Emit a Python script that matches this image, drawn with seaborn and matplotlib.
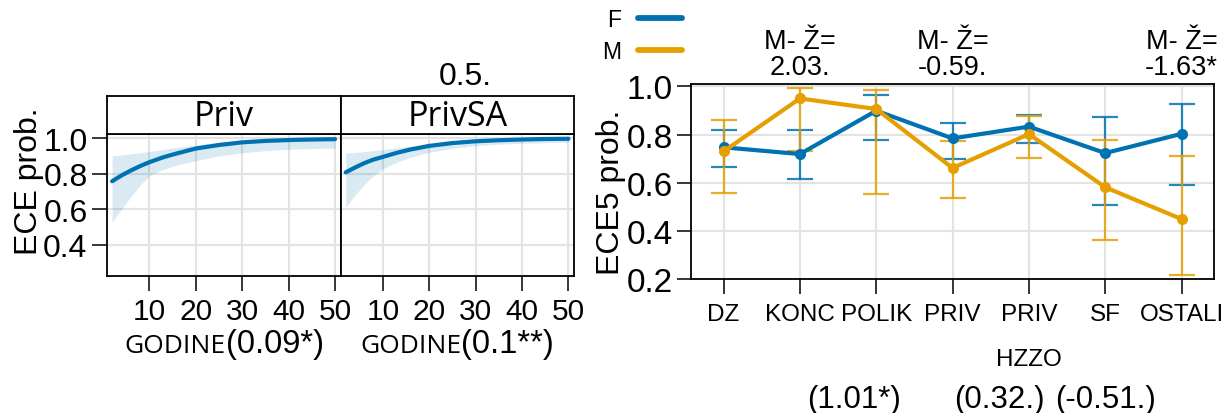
import numpy as np
import pandas as pd
import matplotlib
matplotlib.use("Agg")
import matplotlib.pyplot as plt
import matplotlib.transforms as mtransforms
from matplotlib.lines import Line2D
import seaborn as sns

# ---------------- data: left panels (fitted probability vs years) ----------------
years = [2, 4, 6, 8, 10, 13, 16, 20, 25, 30, 35, 40, 45, 50]
priv_fit = [0.758, 0.790, 0.818, 0.843, 0.865, 0.893, 0.915, 0.942, 0.962, 0.977, 0.985, 0.990, 0.993, 0.995]
priv_lo = [0.527, 0.600, 0.670, 0.735, 0.790, 0.825, 0.850, 0.874, 0.900, 0.918, 0.930, 0.938, 0.942, 0.945]
priv_hi = [0.902, 0.906, 0.912, 0.918, 0.925, 0.937, 0.948, 0.962, 0.978, 0.988, 0.993, 0.996, 0.998, 0.999]
privsa_fit = [0.808, 0.835, 0.860, 0.880, 0.895, 0.918, 0.937, 0.957, 0.973, 0.983, 0.989, 0.993, 0.996, 0.997]
privsa_lo = [0.611, 0.680, 0.740, 0.790, 0.827, 0.865, 0.893, 0.921, 0.943, 0.958, 0.967, 0.972, 0.975, 0.977]
privsa_hi = [0.917, 0.920, 0.925, 0.930, 0.936, 0.946, 0.955, 0.968, 0.982, 0.991, 0.995, 0.997, 0.999, 1.000]
panel_names = ["Priv", "PrivSA"]
panel_var = ["GODINE", "GODINE"]
panel_coef = ["(0.09*)", "(0.1**)"]
year_ticks = [10, 20, 30, 40, 50]
prob_ticks_left = [0.4, 0.6, 0.8, 1.0]
top_note = "0.5."

# ---------------- data: right panel (by category and sex) ----------------
categories = ["DZ", "KONC", "POLIK", "PRIV", "PRIV\nHZZO", "SF", "OSTALI"]
f_mean = [0.747, 0.719, 0.899, 0.784, 0.833, 0.723, 0.803]
f_lo = [0.666, 0.615, 0.776, 0.697, 0.767, 0.507, 0.590]
f_hi = [0.820, 0.819, 0.964, 0.849, 0.881, 0.873, 0.925]
m_mean = [0.730, 0.950, 0.906, 0.661, 0.802, 0.581, 0.449]
m_lo = [0.556, 0.731, 0.552, 0.538, 0.702, 0.363, 0.217]
m_hi = [0.862, 0.993, 0.986, 0.774, 0.878, 0.779, 0.712]
sexes = ["F", "M"]
prob_ticks_right = [0.2, 0.4, 0.6, 0.8, 1.0]
contrast_cats = ["KONC", "PRIV", "OSTALI"]
contrast_vals = ["2.03.", "-0.59.", "-1.63*"]
bottom_notes = ["(1.01*)", "(0.32.)", "(-0.51.)"]
bottom_note_x = [1.71, 3.62, 5.01]

BLUE = "#0072B2"
ORANGE = "#E69F00"
GRID = "#E3E3E3"

sns.set_theme(style="white")
plt.rcParams["font.family"] = ["Liberation Sans", "DejaVu Sans"]
plt.rcParams["axes.linewidth"] = 1.3
for key in ["text.color", "axes.labelcolor", "xtick.color", "ytick.color", "axes.edgecolor"]:
    plt.rcParams[key] = "black"

fig = plt.figure(figsize=(12.27, 4.14), dpi=100)
W, H = 1227.0, 414.0


def fx(px):
    return px / W


def fy(py):
    return 1 - py / H


# ---------------- left panels ----------------
left_data = [(priv_fit, priv_lo, priv_hi), (privsa_fit, privsa_lo, privsa_hi)]
panel_px = [(107, 340.6), (340.6, 574)]
split = [0.509, 0.517]
ax_top, ax_bot, strip_top = 135, 276.7, 96.7
for i, (fit, lo, hi) in enumerate(left_data):
    x0, x1 = panel_px[i]
    ax = fig.add_axes([fx(x0), fy(ax_bot), (x1 - x0) / W, (ax_bot - ax_top) / H])
    sax = fig.add_axes([fx(x0), fy(ax_top), (x1 - x0) / W, (ax_top - strip_top) / H])
    df = pd.DataFrame({"years": years, "fit": fit, "lo": lo, "hi": hi})
    ax.fill_between(df["years"], df["lo"], df["hi"], color=BLUE, alpha=0.15, lw=0)
    sns.lineplot(data=df, x="years", y="fit", ax=ax, color=BLUE, lw=3.0, zorder=3)
    ax.set_xlim(0.9, 51.2)
    ax.set_ylim(0.226, 1.024)
    ax.set_xticks(year_ticks)
    ax.set_yticks(prob_ticks_left)
    ax.grid(True, color=GRID, lw=1.5)
    ax.set_axisbelow(True)
    ax.set_xlabel("")
    ax.set_ylabel("")
    ax.tick_params(axis="x", direction="out", length=11, width=1.1, pad=4,
                   labelsize=21.5, bottom=True)
    if i == 0:
        ax.tick_params(axis="y", direction="out", length=11, width=1.1, pad=3,
                       labelsize=23, left=True)
        ax.set_yticklabels([f"{v:.1f}" for v in prob_ticks_left])
        ax.set_ylabel("ECE prob.", fontsize=23)
        ax.yaxis.set_label_coords((44 - 107) / 233.6, 0.672)
    else:
        ax.tick_params(axis="y", left=False, labelleft=False)
    ax.set_xticklabels([str(t) for t in year_ticks])
    # x-label made of two parts
    ax.text(split[i], -0.54, panel_var[i], transform=ax.transAxes, ha="right",
            va="baseline", fontsize=19, family=["Open Sans", "DejaVu Sans"])
    ax.text(split[i], -0.54, panel_coef[i], transform=ax.transAxes, ha="left",
            va="baseline", fontsize=23.5)
    # strip
    sax.set_xticks([])
    sax.set_yticks([])
    sax.set_facecolor("white")
    sax.text(0.5, 0.47, panel_names[i], ha="center", va="center", fontsize=24.5,
             family=["Open Sans", "DejaVu Sans"], transform=sax.transAxes)

fig.text(fx(465), fy(76.7), top_note, ha="center", va="center", fontsize=23)

# ---------------- right panel ----------------
axr = fig.add_axes([fx(690.8), fy(280), 522.8 / W, 195 / H])
long = pd.DataFrame({
    "cat": categories * 2,
    "pos": list(range(len(categories))) * 2,
    "sex": ["F"] * len(categories) + ["M"] * len(categories),
    "mean": f_mean + m_mean,
    "lo": f_lo + m_lo,
    "hi": f_hi + m_hi,
})
palette = {"F": BLUE, "M": ORANGE}
for sx in sexes:
    d = long[long["sex"] == sx]
    axr.errorbar(d["pos"], d["mean"], yerr=[d["mean"] - d["lo"], d["hi"] - d["mean"]],
                 fmt="none", ecolor=palette[sx], elinewidth=1.6, capsize=9.7,
                 capthick=1.6, alpha=0.85, zorder=2)
sns.lineplot(data=long, x="pos", y="mean", hue="sex", palette=palette, ax=axr,
             lw=3.0, marker="o", markersize=8, markeredgewidth=0, legend=False,
             zorder=4, sort=False)
axr.set_xlim(-0.43, 6.42)
axr.set_ylim(0.2, 1.01)
axr.set_xticks(range(len(categories)))
axr.set_xticklabels(categories, fontsize=17.5, linespacing=2.4)
axr.set_yticks(prob_ticks_right)
axr.set_yticklabels([f"{v:.1f}" for v in prob_ticks_right])
axr.tick_params(axis="x", direction="out", length=11, width=1.1, pad=6, bottom=True)
axr.tick_params(axis="y", direction="out", length=10, width=1.1, pad=3, left=True,
                labelsize=24)
axr.grid(True, color=GRID, lw=1.5)
axr.set_axisbelow(True)
axr.set_xlabel("")
axr.set_ylabel("ECE5 prob.", fontsize=23)
axr.yaxis.set_label_coords((626 - 690.8) / 522.8, 0.45)

trans = mtransforms.blended_transform_factory(axr.transData, axr.transAxes)
for c, v in zip(contrast_cats, contrast_vals):
    axr.text(categories.index(c), 1.155, "M- Ž=\n" + v, transform=trans, ha="center",
             va="center", fontsize=19.5, linespacing=1.0)
for xn, note in zip(bottom_note_x, bottom_notes):
    axr.text(xn, -0.615, note, transform=trans, ha="center", va="center", fontsize=22.5)

handles = [Line2D([0], [0], color=palette[s], lw=4.2, solid_capstyle="round") for s in sexes]
fig.legend(handles, sexes, loc="upper left", bbox_to_anchor=(fx(602), fy(9)),
           frameon=False, markerfirst=False, fontsize=16.5, handlelength=1.9,
           handletextpad=0.75, labelspacing=0.4, borderpad=0, borderaxespad=0,
           labelcolor="black")

fig.savefig("out.png", dpi=100)
